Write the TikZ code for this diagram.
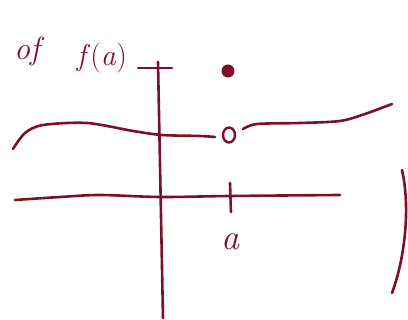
\documentclass[tikz,border=0pt]{standalone}
\usepackage{fontspec}
\definecolor{ink}{RGB}{125,15,40}
\tikzset{
  pen/.style={draw=ink, line width=2.6pt, line cap=round, line join=round},
  label/.style={text=ink, inner sep=0pt},
}
\begin{document}
\begin{tikzpicture}[x=1pt,y=-1pt]
\useasboundingbox (0,0) rectangle (408,320);
% text
\node[label, font=\fontsize{32}{32}\selectfont\itshape] (of) at (27,52) {of};
\node[label, font=\fontsize{30}{30}\selectfont] (fa) at (102,58) {\textit{f}(\textit{a})};
\node[label, font=\fontsize{36}{36}\selectfont\itshape] (alabel) at (230,242) {a};
% axes
\draw[pen] (158,62) -- (163,318);
\draw[pen] (138,68) -- (172,68);
\draw[pen] plot[smooth] coordinates {(15,200) (60,197) (100,195) (160,197) (230,196) (340,195)};
\draw[pen] (230,183) -- (231,212);
% function pieces
\draw[pen] plot[smooth] coordinates {(13,149) (25,133) (43,125) (87,123) (133,131) (162,135) (200,136) (215,137)};
\draw[pen] plot[smooth] coordinates {(243,129) (257,124) (300,123) (340,121) (365,114) (392,104)};
\draw[pen, line width=2.4pt] (229,135) ellipse [x radius=6, y radius=7.5];
\fill[ink] (228,71) circle [radius=6.5];
% right bracket
\draw[pen] (402,170) .. controls (410,205) and (406,255) .. (392,293);
\end{tikzpicture}
\end{document}
